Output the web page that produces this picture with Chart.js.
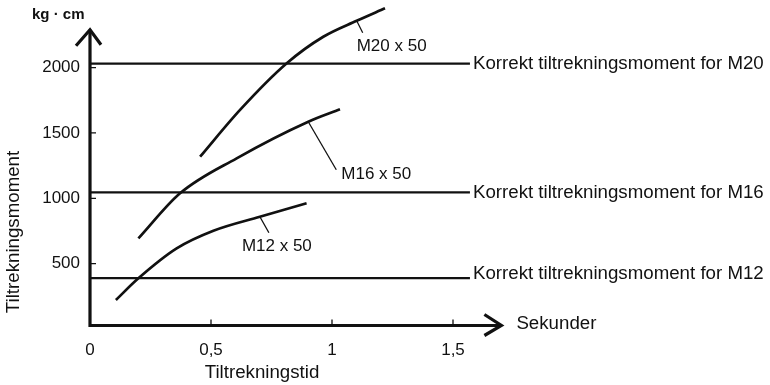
<!DOCTYPE html>
<html lang="no">
<head>
<meta charset="UTF-8">
<title>Tiltrekningsmoment</title>
<script src="https://cdn.jsdelivr.net/npm/chart.js"></script>
<style>
  html, body { margin: 0; padding: 0; background: #fff; }
  #wrap { width: 770px; height: 385px; }
</style>
</head>
<body>
<div id="wrap"><canvas id="chart"></canvas></div>
<script>
// Tiltrekningstid (s) og moment (kg·cm), lest av kurvene
const m20Tid = [0.455, 0.620, 0.813, 0.964, 1.102, 1.219];
const m20Moment = [1318, 1676, 2033, 2236, 2358, 2454];
const m16Tid = [0.200, 0.372, 0.606, 0.902, 1.033];
const m16Moment = [693, 1038, 1306, 1586, 1681];
const m12Tid = [0.107, 0.200, 0.358, 0.510, 0.702, 0.895];
const m12Moment = [222, 388, 617, 752, 859, 962];
const kurveNavn = ['M20 x 50', 'M16 x 50', 'M12 x 50'];

// korrekte moment (horisontale linjer)
const korrektMoment = [2030, 1045, 390];
const korrektTekst = [
  'Korrekt tiltrekningsmoment for M20',
  'Korrekt tiltrekningsmoment for M16',
  'Korrekt tiltrekningsmoment for M12'
];
const korrektSlutt = 1.57;

const xTicks = [0, 0.5, 1, 1.5];
const xTickLabels = ['0', '0,5', '1', '1,5'];
const yTicks = [500, 1000, 1500, 2000];

const FONT = '"Liberation Sans", Arial, sans-serif';
const INK = '#111';

const toPoints = (xs, ys) => xs.map((x, i) => ({ x: x, y: ys[i] }));

const curveSet = (label, xs, ys) => ({
  label: label,
  data: toPoints(xs, ys),
  borderColor: INK,
  borderWidth: 2.7,
  pointRadius: 0,
  cubicInterpolationMode: 'monotone',
  fill: false
});

const datasets = [
  curveSet(kurveNavn[0], m20Tid, m20Moment),
  curveSet(kurveNavn[1], m16Tid, m16Moment),
  curveSet(kurveNavn[2], m12Tid, m12Moment)
];
korrektMoment.forEach((v, i) => {
  datasets.push({
    label: korrektTekst[i],
    data: [{ x: 0, y: v }, { x: korrektSlutt, y: v }],
    borderColor: INK,
    borderWidth: 2.2,
    pointRadius: 0,
    fill: false
  });
});

// leader line offsets and label offsets for the curve names
const leaders = [
  { idx: 4, dx: 6, dy: 12, lx: -6, ly: 14 },
  { idx: 3, dx: 28, dy: 48, lx: 5, ly: 5 },
  { idx: 4, dx: 9, dy: 16, lx: -27, ly: 14 }
];

const drawing = {
  id: 'drawing',
  afterDraw(chart) {
    const ctx = chart.ctx;
    const xs = chart.scales.x, ys = chart.scales.y;
    const x0 = xs.getPixelForValue(0);
    const y0 = ys.getPixelForValue(0) - 3.5;
    const yTop = ys.getPixelForValue(2290);
    const xEnd = xs.getPixelForValue(1.7);
    ctx.save();
    ctx.strokeStyle = INK;
    ctx.fillStyle = INK;
    ctx.lineCap = 'butt';
    ctx.lineJoin = 'miter';

    // axes
    ctx.lineWidth = 3.2;
    ctx.beginPath();
    ctx.moveTo(x0, yTop);
    ctx.lineTo(x0, y0);
    ctx.lineTo(xEnd, y0);
    ctx.stroke();
    // arrow heads
    ctx.beginPath();
    ctx.moveTo(x0 - 14, yTop + 16);
    ctx.lineTo(x0, yTop);
    ctx.lineTo(x0 + 11, yTop + 15);
    ctx.moveTo(xEnd - 17, y0 - 11);
    ctx.lineTo(xEnd, y0);
    ctx.lineTo(xEnd - 17, y0 + 10);
    ctx.stroke();

    // tick marks
    ctx.lineWidth = 1.3;
    ctx.beginPath();
    yTicks.forEach(v => {
      const p = ys.getPixelForValue(v);
      ctx.moveTo(x0, p); ctx.lineTo(x0 + 6, p);
    });
    xTicks.slice(1).forEach(v => {
      const p = xs.getPixelForValue(v);
      ctx.moveTo(p, y0); ctx.lineTo(p, y0 - 6);
    });
    ctx.stroke();

    // leaders and curve names
    ctx.font = '17px ' + FONT;
    ctx.textBaseline = 'middle';
    ctx.textAlign = 'left';
    leaders.forEach((l, i) => {
      const pt = chart.getDatasetMeta(i).data[l.idx];
      const ex = pt.x + l.dx, ey = pt.y + l.dy;
      ctx.lineWidth = 1.3;
      ctx.beginPath();
      ctx.moveTo(pt.x, pt.y);
      ctx.lineTo(ex, ey);
      ctx.stroke();
      ctx.fillText(kurveNavn[i], ex + l.lx, ey + l.ly);
    });

    // correct-torque labels
    ctx.font = '18.7px ' + FONT;
    korrektMoment.forEach((v, i) => {
      ctx.fillText(korrektTekst[i], xs.getPixelForValue(korrektSlutt) + 3, ys.getPixelForValue(v) + (i === 2 ? -4 : 0));
    });

    // axis texts
    ctx.fillText('Sekunder', xEnd + 15, y0 - 2);
    ctx.textAlign = 'center';
    ctx.fillText('Tiltrekningstid', 262, 373);
    ctx.save();
    ctx.translate(14, 232);
    ctx.rotate(-Math.PI / 2);
    ctx.fillText('Tiltrekningsmoment', 0, 0);
    ctx.restore();
    ctx.textAlign = 'left';
    ctx.font = 'bold 15px ' + FONT;
    ctx.fillText('kg · cm', 32, 15);
    ctx.restore();
  }
};

new Chart(document.getElementById('chart'), {
  type: 'line',
  data: { datasets: datasets },
  options: {
    responsive: true,
    maintainAspectRatio: false,
    animation: false,
    layout: {
      autoPadding: false,
      padding: { left: 0, top: 2.25, right: 268.6, bottom: 0 }
    },
    plugins: {
      legend: { display: false },
      tooltip: { enabled: false }
    },
    scales: {
      x: {
        type: 'linear',
        min: 0,
        max: 1.7,
        grid: { display: false, drawTicks: false },
        border: { display: false },
        afterBuildTicks: s => { s.ticks = xTicks.map(v => ({ value: v })); },
        ticks: {
          padding: 11,
          maxRotation: 0,
          color: INK,
          font: { family: FONT, size: 17 },
          callback: (v, i) => xTickLabels[i]
        },
        afterFit: s => { s.height = 56; s.paddingLeft = 0; s.paddingRight = 0; }
      },
      y: {
        type: 'linear',
        min: 0,
        max: 2500,
        grid: { display: false, drawTicks: false },
        border: { display: false },
        afterBuildTicks: s => { s.ticks = yTicks.map(v => ({ value: v })); },
        ticks: {
          padding: 10,
          color: INK,
          font: { family: FONT, size: 17 },
          callback: v => String(v)
        },
        afterFit: s => { s.width = 90; s.paddingTop = 0; s.paddingBottom = 0; }
      }
    }
  },
  plugins: [drawing]
});
</script>
</body>
</html>
